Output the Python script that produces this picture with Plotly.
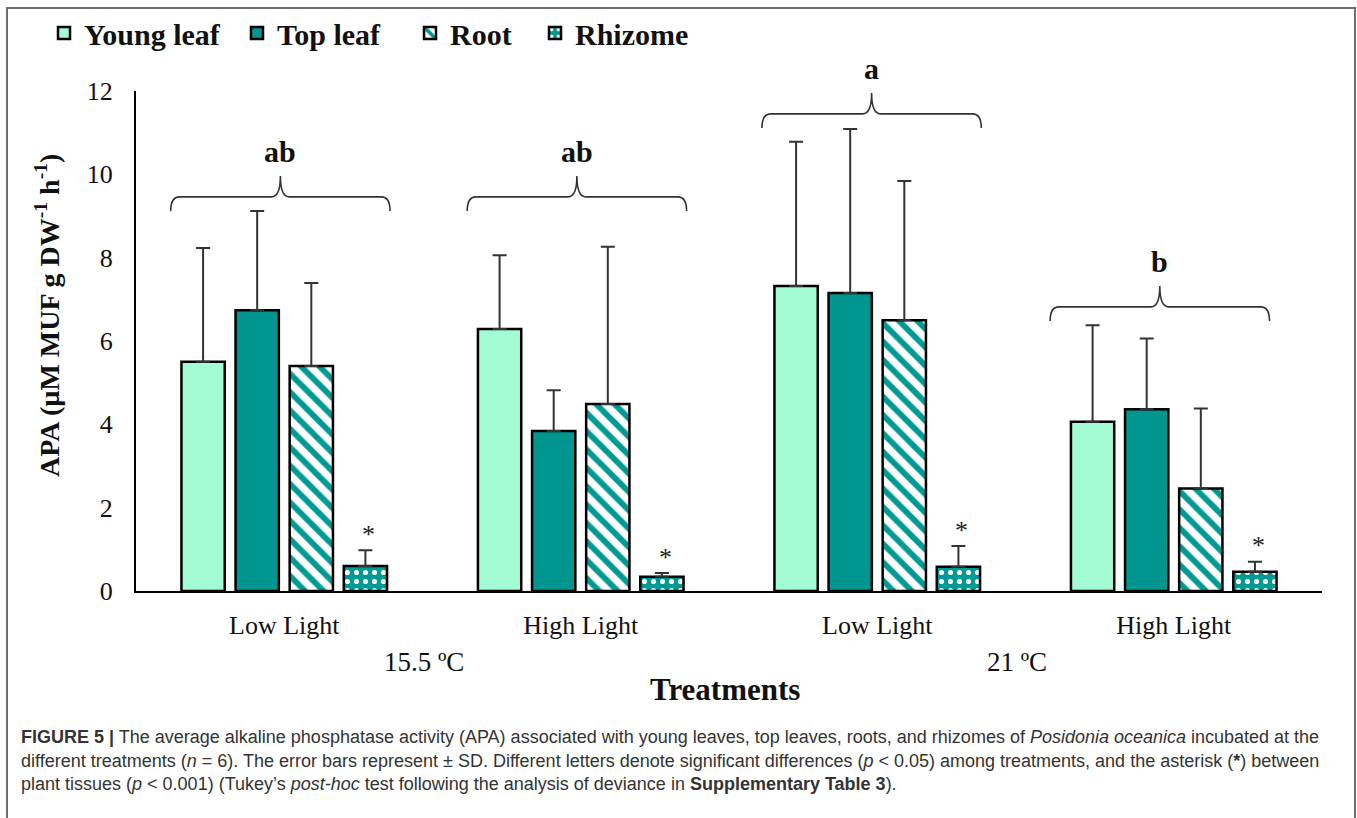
import plotly.graph_objects as go

# --- data ---------------------------------------------------------------
treatments = ["Low Light", "High Light", "Low Light", "High Light"]
temperatures = ["15.5 ºC", "21 ºC"]
tissues = ["Young leaf", "Top leaf", "Root", "Rhizome"]

young_leaf = [5.50, 6.29, 7.32, 4.06]
young_leaf_sd = [2.73, 1.77, 3.46, 2.32]
top_leaf = [6.74, 3.84, 7.15, 4.36]
top_leaf_sd = [2.38, 0.98, 3.94, 1.70]
root = [5.40, 4.49, 6.50, 2.46]
root_sd = [1.99, 3.77, 3.34, 1.92]
rhizome = [0.60, 0.34, 0.58, 0.46]
rhizome_sd = [0.38, 0.09, 0.50, 0.24]

group_letters = ["ab", "ab", "a", "b"]
brace_level = [9.46, 9.46, 11.45, 6.82]
brace_shift = [-0.013, -0.013, -0.019, -0.047]

caption_lines = [
    "<b>FIGURE 5 |</b> The average alkaline phosphatase activity (APA) associated with young leaves, "
    "top leaves, roots, and rhizomes of <i>Posidonia oceanica</i> incubated at the",
    "different treatments (<i>n</i> = 6). The error bars represent ± SD. Different letters denote "
    "significant differences (<i>p</i> < 0.05) among treatments, and the asterisk (<b>*</b>) between",
    "plant tissues (<i>p</i> < 0.001) (Tukey’s <i>post-hoc</i> test following the analysis of "
    "deviance in <b>Supplementary Table 3</b>).",
]

SERIF = "Liberation Serif, Times New Roman, serif"
SANS = "Liberation Sans, Arial, sans-serif"
TEAL = "#009a94"

x = list(range(len(treatments)))

styles = {
    "Young leaf": dict(color="#a2fbd2"),
    "Top leaf": dict(color="#00968f"),
    "Root": dict(color="white", pattern=dict(shape="\\", fgcolor="#009a94", bgcolor="white",
                                             fgopacity=1, size=13, solidity=0.45)),
    "Rhizome": dict(color=TEAL, pattern=dict(shape=".", fgcolor="white", bgcolor=TEAL,
                                             fgopacity=1, size=9, solidity=0.25)),
}
values = {"Young leaf": (young_leaf, young_leaf_sd), "Top leaf": (top_leaf, top_leaf_sd),
          "Root": (root, root_sd), "Rhizome": (rhizome, rhizome_sd)}

legend_left = [44, 237, 410, 535]

fig = go.Figure()
for i, name in enumerate(tissues):
    vals, sd = values[name]
    st = styles[name]
    marker = dict(color=st["color"], line=dict(color="black", width=2.5))
    if "pattern" in st:
        marker["pattern"] = st["pattern"]
    fig.add_trace(go.Bar(
        x=x, y=vals, name=name, marker=marker,
        error_y=dict(type="data", array=sd, arrayminus=[0] * len(sd), symmetric=False,
                     color="#333333", thickness=2, width=7),
        legend="legend" if i == 0 else f"legend{i + 1}",
    ))

# asterisks above rhizome bars
for xi, v, s in zip(x, rhizome, rhizome_sd):
    fig.add_annotation(x=xi + 0.285, y=v + s, yshift=16, text="*", showarrow=False,
                       font=dict(family=SERIF, size=26, color="#222"))

# curly braces + group letters
for xi, lev, letter, sh in zip(x, brace_level, group_letters, brace_shift):
    c = xi + sh
    x0, x1 = c - 0.37, c + 0.37
    d = 0.03
    lo, hi = lev - 0.34, lev + 0.5
    path = (f"M{x0},{lo} Q{x0},{lev} {x0 + d},{lev} L{c - d},{lev} "
            f"Q{c},{lev} {c},{hi} Q{c},{lev} {c + d},{lev} L{x1 - d},{lev} "
            f"Q{x1},{lev} {x1},{lo}")
    fig.add_shape(type="path", path=path, xref="x", yref="y",
                  line=dict(color="#333333", width=1.6))
    fig.add_annotation(x=c, y=lev, yshift=45, text=f"<b>{letter}</b>", showarrow=False,
                       font=dict(family=SERIF, size=30, color="#111"))

# temperature level labels
for xi, t in zip([0.47, 2.47], temperatures):
    fig.add_annotation(x=xi, xref="x", y=(591 - 662) / 500, yref="paper", yanchor="middle",
                       text=t, showarrow=False,
                       font=dict(family=SERIF, size=27, color="#111"))

fig.add_annotation(x=0.497, xref="paper", y=(591 - 689) / 500, yref="paper", yanchor="middle",
                   text="<b>Treatments</b>", showarrow=False,
                   font=dict(family=SERIF, size=31, color="#111"))

# y axis title
fig.add_annotation(x=(47 - 136) / 1186, xref="paper", xanchor="center",
                   y=(591 - 316) / 500, yref="paper", yanchor="middle", textangle=-90,
                   text="<b>APA (µM MUF g DW<sup>-1</sup> h<sup>-1</sup>)</b>", showarrow=False,
                   font=dict(family=SERIF, size=28, color="#111"))

# caption
for k, line in enumerate(caption_lines):
    fig.add_annotation(x=(19 - 136) / 1186, xref="paper", xanchor="left",
                       y=(591 - 737 - 23.5 * k) / 500, yref="paper", yanchor="middle",
                       text=line, showarrow=False, align="left",
                       font=dict(family=SANS, size=18, color="#333333"))

# figure frame
fig.add_shape(type="rect", xref="paper", yref="paper",
              x0=(7 - 136) / 1186, x1=(1355 - 136) / 1186,
              y0=(591 - 840) / 500, y1=(591 - 8) / 500,
              line=dict(color="#6e6e6e", width=2))

legend_common = dict(orientation="h", xref="container", yref="container", y=1 - 33 / 818,
                     yanchor="middle", xanchor="left", bgcolor="rgba(0,0,0,0)",
                     font=dict(family=SERIF, size=30, color="#111", weight="bold"),
                     itemwidth=30)
fig.update_layout(
    width=1357, height=818,
    margin=dict(l=136, r=35, t=91, b=227),
    paper_bgcolor="white", plot_bgcolor="white",
    barmode="group", bargap=0.27, bargroupgap=0.2,
    showlegend=True,
    legend=dict(legend_common, x=legend_left[0] / 1357),
    legend2=dict(legend_common, x=legend_left[1] / 1357),
    legend3=dict(legend_common, x=legend_left[2] / 1357),
    legend4=dict(legend_common, x=legend_left[3] / 1357),
    xaxis=dict(range=[-0.5, 3.5], tickvals=x, ticktext=treatments, showgrid=False,
               showline=True, linecolor="black", linewidth=2, ticks="", zeroline=False,
               tickfont=dict(family=SERIF, size=26, color="#111"), ticklabelstandoff=10),
    yaxis=dict(range=[0, 12], dtick=2, showgrid=False, showline=True, linecolor="black",
               linewidth=2, ticks="", zeroline=False, ticklabelstandoff=16,
               tickfont=dict(family=SERIF, size=26, color="#111")),
)

fig.write_html("out.html", config={"displayModeBar": False},
               post_script="document.body.style.margin='0';")
